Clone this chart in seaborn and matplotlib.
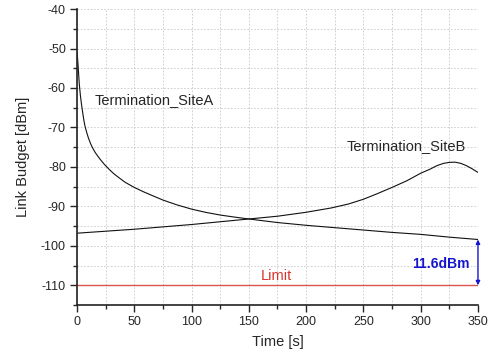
import matplotlib
matplotlib.use("Agg")
import matplotlib.pyplot as plt
import numpy as np
import pandas as pd
import seaborn as sns
from matplotlib.ticker import MultipleLocator

# valeurs
time_a = [0, 0.5, 1, 1.5, 2, 3, 4, 5, 6, 7, 8.5, 10, 12, 14, 16, 20, 24, 28, 32, 36, 42, 50, 58, 66,
          75, 87, 100, 112, 125, 137, 150, 175, 200, 225, 250, 275, 300, 325, 350]
budget_a = [-51, -52.5, -54.5, -56.8, -59, -62, -64.3, -66.3, -68.2, -69.7, -71.3, -72.7, -74.2, -75.4,
            -76.4, -78, -79.4, -80.6, -81.7, -82.6, -83.9, -85.2, -86.3, -87.3, -88.4, -89.6, -90.7,
            -91.5, -92.2, -92.7, -93.2, -94.1, -94.8, -95.4, -96.0, -96.6, -97.1, -97.8, -98.4]
time_b = [0, 50, 100, 150, 175, 200, 222, 237, 250, 262, 275, 288, 300, 308, 314, 320, 325, 330,
          335, 340, 345, 350]
budget_b = [-96.8, -95.8, -94.6, -93.2, -92.5, -91.5, -90.4, -89.4, -88.2, -86.8, -85.2, -83.5,
            -81.6, -80.6, -79.7, -79.1, -78.85, -78.8, -79.1, -79.7, -80.5, -81.4]
limit_db = -110
margin_db = 11.6

df = pd.concat([
    pd.DataFrame({"time": time_a, "budget": budget_a, "site": "Termination_SiteA"}),
    pd.DataFrame({"time": time_b, "budget": budget_b, "site": "Termination_SiteB"}),
])

sns.set_style("ticks")
plt.rcParams["font.family"] = ["Liberation Sans", "DejaVu Sans"]
plt.rcParams["axes.unicode_minus"] = False

fig = plt.figure(figsize=(4.92, 3.54), dpi=100)
ax = fig.add_axes([0.1565, 0.1384, 0.815, 0.836])

sns.lineplot(data=df, x="time", y="budget", units="site", estimator=None,
             color="#111111", linewidth=0.8, ax=ax)
ax.axhline(limit_db, color="#d9534f", linewidth=1.0)

ax.set_xlim(0, 350)
ax.set_ylim(-115, -40)
ax.xaxis.set_major_locator(MultipleLocator(50))
ax.xaxis.set_minor_locator(MultipleLocator(25))
ax.yaxis.set_major_locator(MultipleLocator(10))
ax.yaxis.set_minor_locator(MultipleLocator(5))
ax.grid(which="both", color="#c8c8c8", linestyle=(0, (2, 2)), linewidth=0.6)
ax.set_axisbelow(True)
ax.tick_params(which="major", direction="out", length=5, labelsize=9, width=1, pad=3)
ax.tick_params(which="minor", direction="out", length=3, width=1)
sns.despine(ax=ax)
for s in ("left", "bottom"):
    ax.spines[s].set_linewidth(1.2)
    ax.spines[s].set_color("#222222")

ax.set_xlabel("Time [s]", fontsize=10.5, labelpad=5)
ax.set_ylabel("Link Budget [dBm]", fontsize=10.5, labelpad=8)

ax.text(15.5, -63, "Termination_SiteA", fontsize=10.5, va="center")
ax.text(235, -74.8, "Termination_SiteB", fontsize=10.5, va="center")
ax.text(160, -107.7, "Limit", fontsize=10.5, va="center", color="#d9342b")
ax.text(343, -104.5, f"{margin_db}dBm", fontsize=10, va="center", ha="right",
        color="#1515d0", fontweight="bold")
ax.annotate("", xy=(350, limit_db), xytext=(350, limit_db + margin_db),
            arrowprops=dict(arrowstyle="<|-|>", color="#1515d0", lw=1,
                            mutation_scale=6, shrinkA=0, shrinkB=0))

fig.savefig("out.png", dpi=100)
